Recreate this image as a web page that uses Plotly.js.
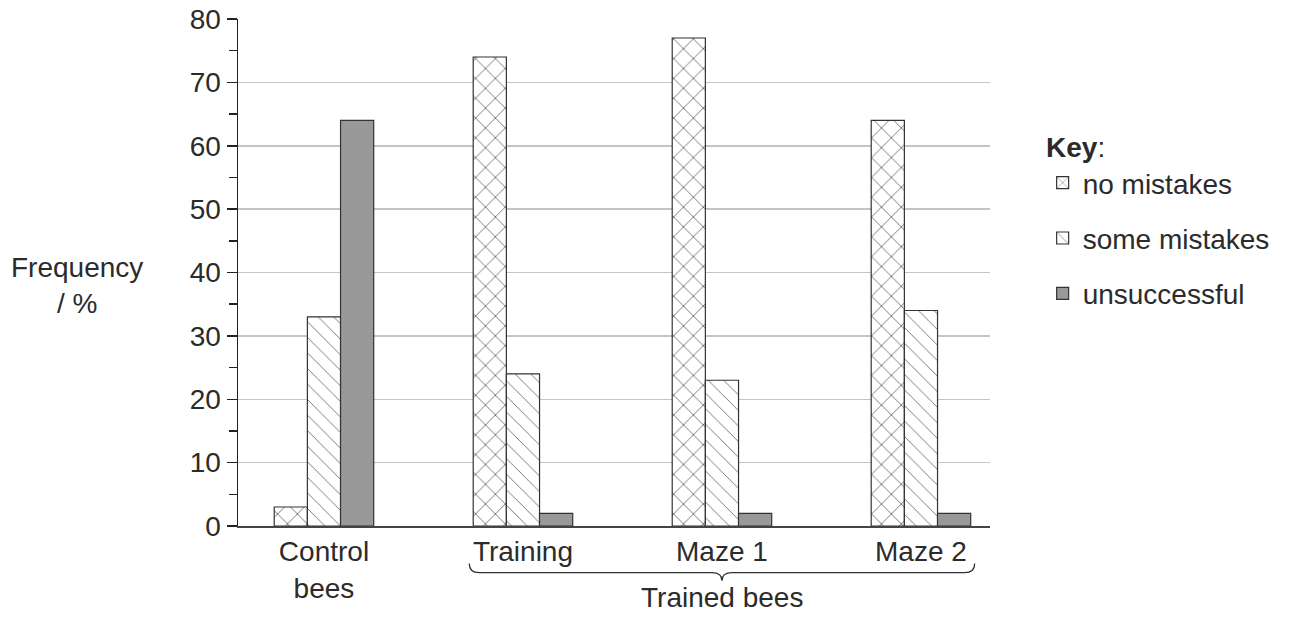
<!DOCTYPE html>
<html>
<head>
<meta charset="utf-8">
<script src="https://cdn.plot.ly/plotly-3.0.1.min.js"></script>
<style>html,body{margin:0;padding:0;background:#fff;}#chart{width:1299px;height:617px;}</style>
</head>
<body>
<div id="chart"></div>
<script>
const groupPositions = [0, 1, 2, 3];
const categoryLabels = ["Control<br>bees", "Training", "Maze 1", "Maze 2"];
const seriesNames = ["no mistakes", "some mistakes", "unsuccessful"];
const noMistakes = [3, 74, 77, 64];
const someMistakes = [33, 24, 23, 34];
const unsuccessful = [64, 2, 2, 2];
const yTicks = [0, 10, 20, 30, 40, 50, 60, 70, 80];

const FONT = "Liberation Sans, Arial, Helvetica, sans-serif";
const TXT = "#2b2b2b";
const FS = 28;

const traces = [
  {type: "bar", x: groupPositions, y: noMistakes, name: seriesNames[0], legendgroup: "a",
   marker: {color: "#ffffff", line: {color: "#333333", width: 1.2},
            pattern: {shape: "x", fgcolor: "#1a1a1a", bgcolor: "#ffffff", size: 14, solidity: 0.08}}},
  {type: "bar", x: groupPositions, y: someMistakes, name: seriesNames[1], legendgroup: "b",
   marker: {color: "#ffffff", line: {color: "#333333", width: 1.2},
            pattern: {shape: "\\", fgcolor: "#6a6a6a", bgcolor: "#ffffff", size: 11, solidity: 0.08}}},
  {type: "bar", x: groupPositions, y: unsuccessful, name: seriesNames[2], legendgroup: "c",
   marker: {color: "#999999", line: {color: "#333333", width: 1.2}}}
];

const layout = {
  width: 1299, height: 617,
  margin: {l: 238, r: 309, t: 19, b: 91},
  paper_bgcolor: "#ffffff", plot_bgcolor: "#ffffff",
  font: {family: FONT, color: TXT, size: FS},
  barmode: "group", bargap: 0.5, bargroupgap: 0,
  showlegend: true,
  legend: {x: 1.07, y: 0.726, xanchor: "left", yanchor: "top",
           traceorder: "grouped", tracegroupgap: 16,
           font: {family: FONT, size: FS, color: TXT},
           bgcolor: "rgba(0,0,0,0)"},
  xaxis: {type: "linear", range: [-0.432, 3.347], tickvals: groupPositions, ticktext: categoryLabels,
          showgrid: false, zeroline: false, showline: true, linecolor: "#444444", linewidth: 1.5,
          ticks: "", tickfont: {family: FONT, size: FS, color: TXT}, fixedrange: true},
  yaxis: {range: [0, 80], tickvals: yTicks, showgrid: true, gridcolor: "#c4c4c4", gridwidth: 1.5,
          zeroline: false, showline: true, linecolor: "#222222", linewidth: 1.5,
          ticks: "outside", ticklen: 10, tickcolor: "#222222", tickwidth: 1.5,
          minor: {dtick: 5, ticks: "outside", ticklen: 8, tickcolor: "#222222", tickwidth: 1.5, showgrid: false},
          tickfont: {family: FONT, size: FS, color: TXT}, fixedrange: true},
  shapes: [
    {type: "path", xref: "x", yref: "paper",
     path: "M0.73,-0.074 Q0.73,-0.092 0.78,-0.092 L1.95,-0.092 Q2.0,-0.092 2.0,-0.108 Q2.0,-0.092 2.05,-0.092 L3.22,-0.092 Q3.27,-0.092 3.27,-0.074",
     line: {color: "#333333", width: 1.3}}
  ],
  annotations: [
    {text: "<b>Key</b>:", xref: "paper", yref: "paper", x: 1.072, y: 0.747, xanchor: "left", yanchor: "middle",
     showarrow: false, font: {family: FONT, size: FS, color: TXT}},
    {text: "Trained bees", xref: "x", yref: "paper", x: 2, y: -0.142, xanchor: "center", yanchor: "middle",
     showarrow: false, font: {family: FONT, size: FS, color: TXT}},
    {text: "Frequency<br>/ %", xref: "paper", yref: "paper", x: -0.214, y: 0.475, xanchor: "center", yanchor: "middle",
     showarrow: false, font: {family: FONT, size: FS, color: TXT}}
  ]
};

Plotly.newPlot("chart", traces, layout, {displayModeBar: false, staticPlot: true});
</script>
</body>
</html>
